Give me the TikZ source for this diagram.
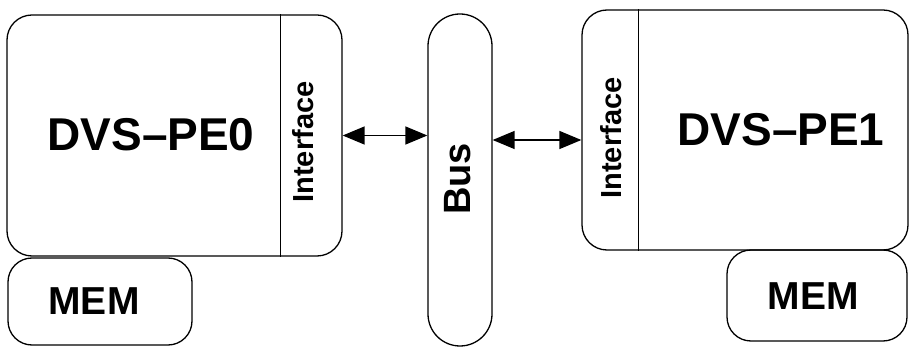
\documentclass[tikz,border=0pt]{standalone}
\usepackage{fontspec}
\setmainfont{Liberation Sans}
\usetikzlibrary{arrows.meta}
\begin{document}
\begin{tikzpicture}[x=1pt,y=1pt,
  blk/.style={draw, line width=1.3pt, rounded corners=#1, inner sep=0pt},
  blk/.default=25pt,
  lbl/.style={font=\bfseries\fontsize{#1}{#1}\selectfont, inner sep=0pt},
  link/.style={line width=1.4pt, {Triangle[length=22pt,width=18pt]}-{Triangle[length=22pt,width=18pt]}}
]
\useasboundingbox (0,0) rectangle (910,348);

% processing element 0 with its interface strip
\node[blk, minimum width=335pt, minimum height=241pt] (pe0) at (174.5,212.5) {};
\draw[line width=1pt] (280,0 |- pe0.north) -- (280,0 |- pe0.south);
\node[lbl=46] (pe0txt) at (151,213) {DVS--PE0};
\node[lbl=29, rotate=90] (if0) at (303,206) {Interface};

% local memory of element 0
\node[blk=24pt, minimum width=184pt, minimum height=87pt] (mem0) at (100,46.5) {};
\node[lbl=39] (mem0txt) at (94,47) {MEM};

% shared bus
\node[blk=32pt, minimum width=64pt, minimum height=332pt] (bus) at (460,168) {};
\node[lbl=38, rotate=90] (bustxt) at (458,169) {Bus};

% processing element 1 with its interface strip
\node[blk, minimum width=326pt, minimum height=240pt] (pe1) at (745,218) {};
\draw[line width=1pt] (638,0 |- pe1.north) -- (638,0 |- pe1.south);
\node[lbl=46] (pe1txt) at (781,218) {DVS--PE1};
\node[lbl=29, rotate=90] (if1) at (611,210) {Interface};

% local memory of element 1
\node[blk=24pt, minimum width=180pt, minimum height=91pt] (mem1) at (817,52.5) {};
\node[lbl=39] (mem1txt) at (813,52) {MEM};

% bidirectional links to the bus
\coordinate (r1) at (0,208);
\draw[link] (pe0.east) -- (bus.west |- pe0.east);
\draw[link] (bus.east |- r1) -- (pe1.west |- r1);
\end{tikzpicture}
\end{document}
